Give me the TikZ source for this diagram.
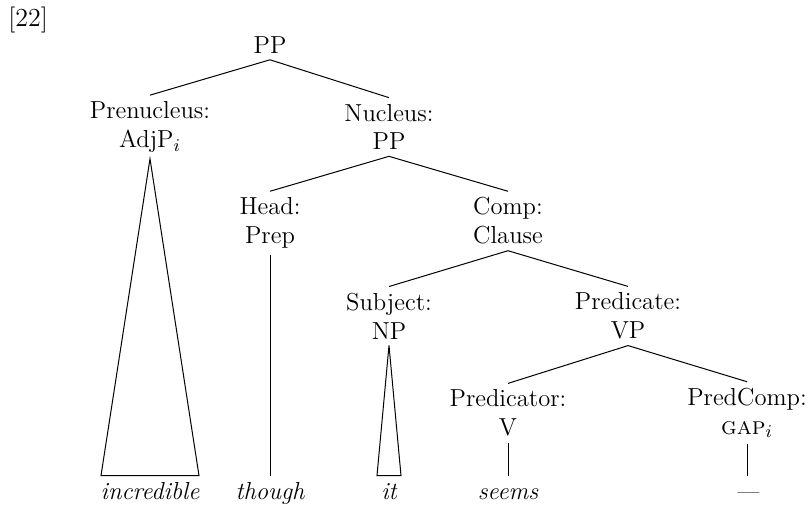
\documentclass[tikz,border=0pt]{standalone}
\usepackage{fontspec}
\usetikzlibrary{positioning,calc}
\tikzset{line/.style={line width=0.5pt},
cat/.style={align=center, inner sep=3pt, font=\fontsize{12.3}{14.4}\selectfont},
leaf/.style={inner sep=3pt, text height=9pt, text depth=2pt, font=\fontsize{12.3}{14.4}\selectfont\itshape}}

\begin{document}
\begin{tikzpicture}[x=0.5pt, y=-0.5pt]
\useasboundingbox (0,0) rectangle (809,506);
\node[cat, anchor=west, font=\fontsize{13}{15}\selectfont] (exnum) at (2,20) {[22]};

% categories
\node[cat] (root) at (270,45) {PP};
\node[cat] (prenuc) at (150,127) {Prenucleus:\\AdjP$_i$};
\node[cat] (nuc) at (389,127) {Nucleus:\\PP};
\node[cat] (head) at (270,223) {Head:\\Prep};
\node[cat] (comp) at (508,221) {Comp:\\Clause};
\node[cat] (subj) at (389,316) {Subject:\\NP};
\node[cat] (pred) at (628,316) {Predicate:\\VP};
\node[cat] (predor) at (508,413) {Predicator:\\V};
\node[cat] (predcomp) at (747,413) {PredComp:\\\textsc{gap}$_i$};

% words
\node[leaf, anchor=base] (incr) at (150,500) {incredible};
\node[leaf, anchor=base] (though) at (270,500) {though};
\node[leaf, anchor=base] (it) at (389,500) {it};
\node[leaf, anchor=base] (seems) at (508,500) {seems};
\node[leaf, anchor=base] (gap) at (747,500) {---};

\draw[line] (prenuc.north) -- (root.south) -- (nuc.north);
\draw[line] (head.north) -- (nuc.south) -- (comp.north);
\draw[line] (subj.north) -- (comp.south) -- (pred.north);
\draw[line] (predor.north) -- (pred.south) -- (predcomp.north);

% triangles
\draw[line] (prenuc.south) -- ($(incr.north)+(-49,0)$) -- ($(incr.north)+(49,0)$) -- cycle;
\draw[line] (subj.south) -- ($(it.north)+(-12,0)$) -- ($(it.north)+(12,0)$) -- cycle;

\draw[line] (head.south) -- (though.north);
\draw[line] (predor.south) -- (seems.north);
\draw[line] (predcomp.south) -- (gap.north);
\end{tikzpicture}
\end{document}
